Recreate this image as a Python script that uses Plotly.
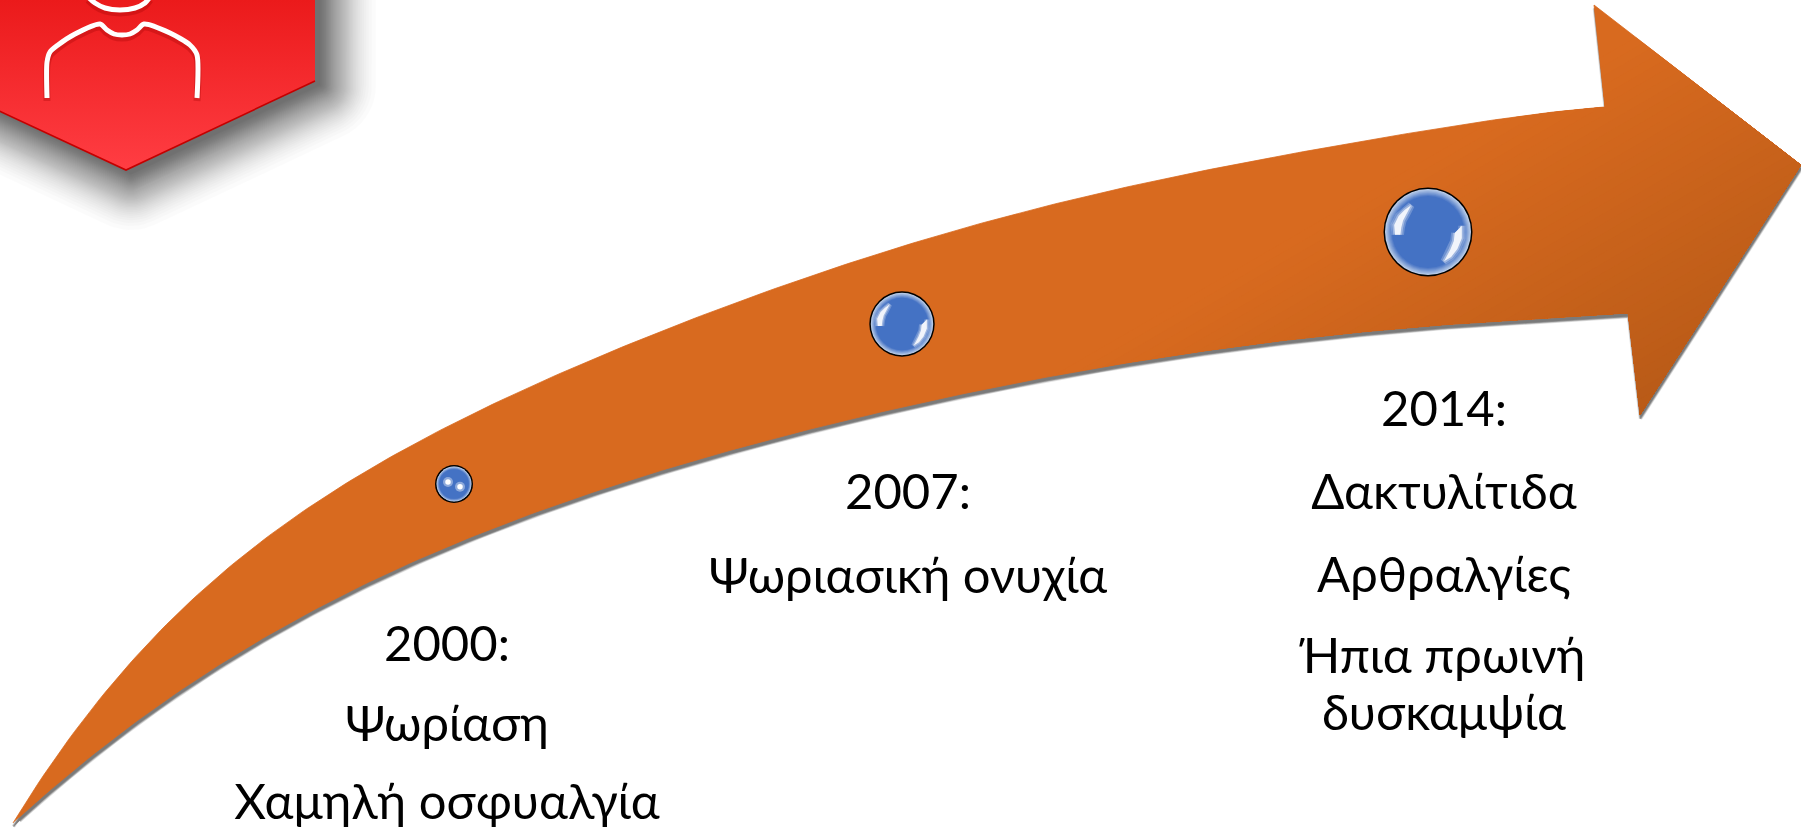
import numpy as np
import plotly.graph_objects as go

# ---------- data (pixel coordinates of the 1801x829 slide) ----------
UPPER_X = [13, 50, 100, 150, 197, 226, 303, 380, 456, 533, 609, 686, 750, 808, 917, 1025, 1134, 1242, 1350, 1459, 1550, 1605]
UPPER_Y = [823, 767, 697, 642, 597, 570, 510, 462, 422, 387, 353, 322, 298, 277, 238, 213, 187, 165, 140, 125, 115, 107]
LOWER_X = [1628, 1550, 1459, 1350, 1242, 1134, 1025, 917, 846, 750, 686, 609, 533, 456, 380, 303, 232, 167, 77, 13]
LOWER_Y = [313, 318, 323, 333, 347, 362, 380, 403, 420, 447, 463, 487, 513, 543, 575, 615, 658, 703, 763, 823]
HEAD_X = [1605, 1594, 1801, 1640, 1628]
HEAD_Y = [107, 5, 165, 415, 313]

HEX_X = [-160, 315, 315, 126, -160]
HEX_Y = [-160, -160, 81, 170, 37]

BODY_X = [47, 47, 50, 58, 75, 100, 107, 114, 122, 130, 137, 144, 170, 190, 197, 197]
BODY_Y = [98, 62, 52, 45, 34, 24, 30, 34, 35, 34, 30, 24, 33, 45, 55, 98]
HEAD_ARC_X = [88, 95, 105, 120, 135, 145, 150]
HEAD_ARC_Y = [-3, 3, 8, 10, 8, 3, -3]

BALL_X = [454, 902, 1428]
BALL_Y = [484, 324, 232]
BALL_R = [19, 32.7, 44.5]

CREST_UL_X = [-.74, -.76, -.66, -.52, -.38, -.48, -.56, -.60, -.62]
CREST_UL_Y = [.06, -.16, -.36, -.50, -.60, -.40, -.26, -.10, .06]
CREST_LR_X = [.76, .76, .66, .52, .36, .50, .58, .60]
CREST_LR_Y = [-.14, .14, .38, .56, .66, .40, .20, .02]
DOTS_X = [448, 460]
DOTS_Y = [482, 486.7]

TEXT_X = [447, 447, 447, 908, 908, 1444, 1444, 1444, 1444, 1444]
TEXT_Y = [648.5, 728.5, 806.5, 496.5, 580.5, 413.5, 496.5, 579.5, 660.5, 717.5]
TEXT_S = ["2000:", "Ψωρίαση", "Χαμηλή οσφυαλγία", "2007:", "Ψωριασική ονυχία",
          "2014:", "Δακτυλίτιδα", "Αρθραλγίες", "Ήπια πρωινή", "δυσκαμψία"]


# ---------- helpers ----------
def fitted_edge(x, y, degree=7):
    """Smooth edge through the read points, pinned at both ends."""
    x, y = np.array(x, float), np.array(y, float)
    w = np.ones(len(x))
    w[0] = w[-1] = 30
    u = (x - 900) / 900
    c = np.polyfit(u, y, degree, w=w)
    xs = np.linspace(x[0], x[-1], 260)
    return np.column_stack([xs, np.polyval(c, (xs - 900) / 900)])


def clip(poly, nx, ny, t0):
    """Keep the part of the polygon where nx*x+ny*y >= t0."""
    out = []
    d = poly[:, 0] * nx + poly[:, 1] * ny - t0
    for i in range(len(poly)):
        j = (i + 1) % len(poly)
        if d[i] >= 0:
            out.append(poly[i])
        if d[i] * d[j] < 0:
            out.append(poly[i] + (poly[j] - poly[i]) * d[i] / (d[i] - d[j]))
    return np.array(out) if out else None


def dilate_convex(x, y, d, steps=10):
    """Convex polygon (clockwise on screen) grown by d, with round corners."""
    p = np.column_stack([x, y]).astype(float)
    if d <= 0:
        return p
    n = len(p)
    out = []
    for i in range(n):
        e0 = p[i] - p[i - 1]
        e1 = p[(i + 1) % n] - p[i]
        a0 = np.arctan2(e0[1], e0[0]) - np.pi / 2
        a1 = np.arctan2(e1[1], e1[0]) - np.pi / 2
        while a1 < a0:
            a1 += 2 * np.pi
        for a in np.linspace(a0, a1, steps):
            out.append(p[i] + d * np.array([np.cos(a), np.sin(a)]))
    return np.array(out)


def mix(c1, c2, f):
    return "rgb(%d,%d,%d)" % tuple(round(a + (b - a) * f) for a, b in zip(c1, c2))


fig = go.Figure()


def fill_poly(x, y, color, opacity=1, lw=0):
    fig.add_trace(go.Scatter(x=list(x), y=list(y), mode="lines", fill="toself", fillcolor=color,
                             line=dict(color=color, width=lw), opacity=opacity,
                             hoverinfo="skip", showlegend=False))


def soft_shadow(x, y, dx, dy, spread, peak, n):
    a = 1 - (1 - peak) ** (1 / n)
    for i in range(1, n + 1):
        d = spread * (1 - np.sqrt(i / n))
        fill_poly(np.array(x) + dx, np.array(y) + dy, "#000000", a, 2 * d)


def round_shadow(x, y, dx, dy, spread, peak, n):
    a = 1 - (1 - peak) ** (1 / n)
    for i in range(1, n + 1):
        d = spread * (1 - np.sqrt(i / n))
        q = dilate_convex(np.array(x) + dx, np.array(y) + dy, d)
        fill_poly(q[:, 0], q[:, 1], "#000000", a, 0)


# ---------- arrow ----------
upper = fitted_edge(UPPER_X, UPPER_Y)
lower = fitted_edge(LOWER_X, LOWER_Y)
arrow = np.vstack([upper, np.column_stack([HEAD_X[1:4], HEAD_Y[1:4]]), lower[:-1]])

soft_shadow(arrow[:, 0], arrow[:, 1], .5, 3.5, 3, .5, 6)

LIGHT, DARK = (216, 106, 31), (184, 90, 23)
nx, ny = .5, .86
T0, T1 = 850, 1180
fill_poly(arrow[:, 0], arrow[:, 1], mix(LIGHT, DARK, 0), 1, .8)
for t in np.linspace(T0, T1, 40):
    part = clip(arrow, nx, ny, t)
    if part is not None:
        fill_poly(part[:, 0], part[:, 1], mix(LIGHT, DARK, (t - T0) / (T1 - T0)))

# ---------- red badge ----------
round_shadow(HEX_X, HEX_Y, 5, 4, 66, .54, 45)
fig.add_trace(go.Scatter(x=HEX_X, y=HEX_Y, mode="lines", fill="toself",
                         fillgradient=dict(type="vertical", start=0, stop=170,
                                           colorscale=[[0, "#EB1A1B"], [1, "#FF3D43"]]),
                         line=dict(width=0), hoverinfo="skip", showlegend=False))
fig.add_trace(go.Scatter(x=HEX_X[2:5], y=HEX_Y[2:5], mode="lines", line=dict(color="#C40000", width=1.6),
                         hoverinfo="skip", showlegend=False))
for ox, oy, col, w in [(0, 3, "rgba(150,0,0,.28)", 7), (0, 0, "#FFFFFF", 5)]:
    for xs, ys in [(BODY_X, BODY_Y), (HEAD_ARC_X, HEAD_ARC_Y)]:
        fig.add_trace(go.Scatter(x=np.array(xs) + ox, y=np.array(ys) + oy, mode="lines",
                                 line=dict(color=col, width=w, shape="spline", smoothing=.7),
                                 hoverinfo="skip", showlegend=False))

# ---------- glass balls ----------
EDGE, CORE = (186, 204, 232), (68, 114, 196)
for bx, by, r in zip(BALL_X, BALL_Y, BALL_R):
    fig.add_trace(go.Scatter(x=[bx], y=[by], mode="markers", marker=dict(size=2 * r, color="#000000", line=dict(width=0)),
                             hoverinfo="skip", showlegend=False))
    inner = r - 1.5
    for f in np.linspace(0, 1, 9):
        fig.add_trace(go.Scatter(x=[bx], y=[by], mode="markers",
                                 marker=dict(size=2 * inner * (1 - .16 * f), color=mix(EDGE, CORE, f), line=dict(width=0)),
                                 hoverinfo="skip", showlegend=False))
    if r > 25:
        for cx, cy in [(CREST_UL_X, CREST_UL_Y), (CREST_LR_X, CREST_LR_Y)]:
            px, py = bx + np.array(cx) * r, by + np.array(cy) * r
            fill_poly(px, py, "#FFFFFF", .22, r * .16)
            fill_poly(px, py, "#FFFFFF", .35, r * .08)
            fill_poly(px, py, "#FFFFFF", .85, 0)
fig.add_trace(go.Scatter(x=DOTS_X, y=DOTS_Y, mode="markers", marker=dict(size=10, color="rgba(255,255,255,.4)", line=dict(width=0)),
                         hoverinfo="skip", showlegend=False))
fig.add_trace(go.Scatter(x=DOTS_X, y=DOTS_Y, mode="markers", marker=dict(size=5.5, color="#FFFFFF", line=dict(width=0)),
                         hoverinfo="skip", showlegend=False))

# ---------- text ----------
fig.add_trace(go.Scatter(x=TEXT_X, y=TEXT_Y, mode="text", text=TEXT_S, textposition="middle center",
                         textfont=dict(family="Lato", size=49, color="#000000"),
                         hoverinfo="skip", showlegend=False))

fig.update_layout(width=1801, height=829, margin=dict(l=0, r=0, t=0, b=0),
                  paper_bgcolor="#FFFFFF", plot_bgcolor="#FFFFFF", showlegend=False,
                  xaxis=dict(range=[0, 1801], visible=False, fixedrange=True),
                  yaxis=dict(range=[829, 0], visible=False, fixedrange=True))
fig.write_html("out.html", config=dict(displayModeBar=False),
               post_script="document.body.style.margin='0';document.documentElement.style.overflow='hidden';")
